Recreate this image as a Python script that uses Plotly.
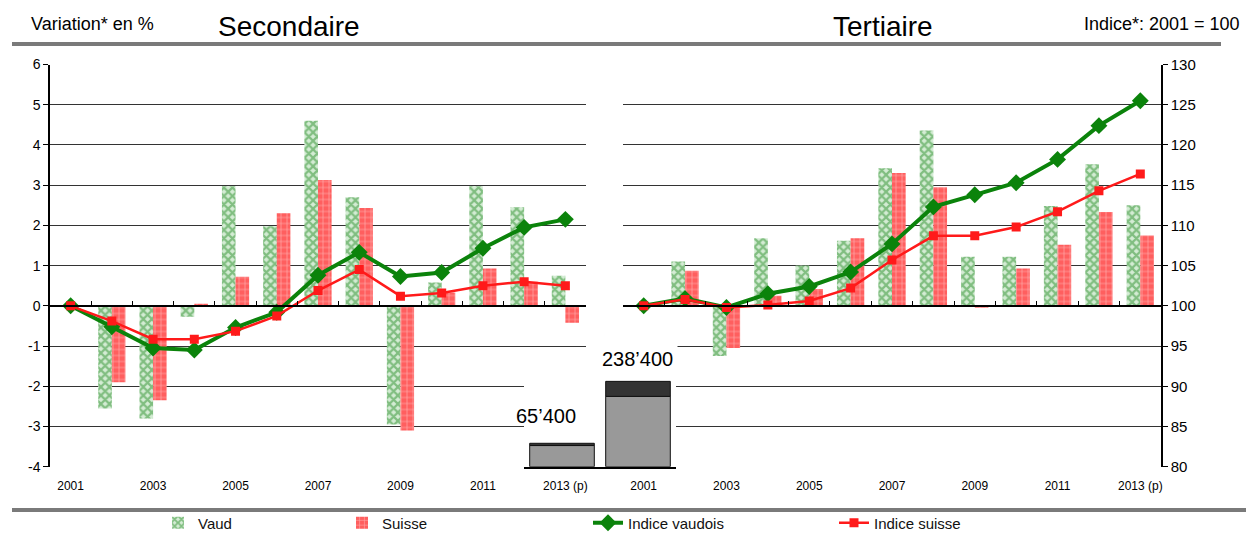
import plotly.graph_objects as go

W, H = 1246, 533


def fx(p):
    return p / W


def fy(p):
    return 1 - p / H


# ---------------- data ----------------
years = ["2001", "2002", "2003", "2004", "2005", "2006", "2007",
         "2008", "2009", "2010", "2011", "2012", "2013 (p)"]
label_years = ["2001", "2003", "2005", "2007", "2009", "2011", "2013 (p)"]

# Secondaire: annual variation in %
sec_vaud = [None, -2.55, -2.8, -0.27, 2.97, 1.98, 4.6, 2.7, -2.95, 0.58, 2.97, 2.45, 0.75]
sec_suisse = [None, -1.9, -2.35, 0.05, 0.72, 2.3, 3.13, 2.43, -3.1, 0.33, 0.93, 0.6, -0.42]
# Secondaire: index 2001 = 100
sec_idx_vaud = [100, 97.4, 94.75, 94.5, 97.3, 99.2, 103.8, 106.65, 103.65, 104.15, 107.15, 109.75, 110.75]
sec_idx_suisse = [100, 98.1, 95.85, 95.85, 96.85, 98.75, 101.9, 104.5, 101.2, 101.6, 102.5, 103.0, 102.5]

# Tertiaire: annual variation in %
ter_vaud = [None, 1.1, -1.25, 1.68, 1.0, 1.62, 3.42, 4.36, 1.22, 1.22, 2.48, 3.52, 2.5]
ter_suisse = [None, 0.87, -1.05, 0.25, 0.42, 1.68, 3.3, 2.95, -0.05, 0.93, 1.52, 2.33, 1.75]
# Tertiaire: index 2001 = 100
ter_idx_vaud = [100, 100.9, 99.8, 101.5, 102.4, 104.2, 107.7, 112.3, 113.8, 115.3, 118.2, 122.4, 125.5]
ter_idx_suisse = [100, 100.8, 99.8, 100.1, 100.6, 102.2, 105.7, 108.7, 108.7, 109.8, 111.7, 114.3, 116.4]

# Inset: employment 2001
inset_cats = ["Secondaire", "Tertiaire"]
inset_gray = [59100, 196500]
inset_dark = [6300, 41900]
inset_totals = [65400, 238400]
inset_labels = ["65\u2019400", "238\u2019400"]

pct_ticks = [-4, -3, -2, -1, 0, 1, 2, 3, 4, 5, 6]
pct_ticktext = ["-4", "-3", "-2", "-1", "0", "1", "2", "3", "4", "5", "6"]
idx_ticks = [80, 85, 90, 95, 100, 105, 110, 115, 120, 125, 130]

# ---------------- styles ----------------
GREEN = "#0b830b"
RED = "#ff1a1a"
FONT = "Arial"

vaud_marker = dict(color="#2b8f2b",
                   pattern=dict(shape="x", fgcolor="#2b8f2b", bgcolor="#d4ecd4",
                                size=6, solidity=0.6),
                   line=dict(width=0))
suisse_marker = dict(color="#ff5f5f",
                     pattern=dict(shape="+", fgcolor="white", bgcolor="#ff5f5f",
                                  size=6, solidity=0.2),
                     line=dict(width=0))

fig = go.Figure()

# Left panel (Secondaire)
fig.add_trace(go.Bar(x=years, y=sec_vaud, name="Vaud", xaxis="x", yaxis="y",
                     marker=vaud_marker, legend="legend"))
fig.add_trace(go.Bar(x=years, y=sec_suisse, name="Suisse", xaxis="x", yaxis="y",
                     marker=suisse_marker, legend="legend2"))
fig.add_trace(go.Scatter(x=years, y=sec_idx_vaud, name="Indice vaudois",
                         xaxis="x4", yaxis="y2", mode="lines+markers",
                         line=dict(color=GREEN, width=4),
                         marker=dict(symbol="diamond", size=13, color=GREEN),
                         legend="legend3"))
fig.add_trace(go.Scatter(x=years, y=sec_idx_suisse, name="Indice suisse",
                         xaxis="x4", yaxis="y2", mode="lines+markers",
                         line=dict(color=RED, width=2.5),
                         marker=dict(symbol="square", size=9, color=RED),
                         legend="legend4"))

# Right panel (Tertiaire)
fig.add_trace(go.Bar(x=years, y=ter_vaud, name="Vaud", xaxis="x2", yaxis="y3",
                     marker=vaud_marker, showlegend=False))
fig.add_trace(go.Bar(x=years, y=ter_suisse, name="Suisse", xaxis="x2", yaxis="y3",
                     marker=suisse_marker, showlegend=False))
fig.add_trace(go.Scatter(x=years, y=ter_idx_vaud, name="Indice vaudois",
                         xaxis="x5", yaxis="y4", mode="lines+markers",
                         line=dict(color=GREEN, width=4),
                         marker=dict(symbol="diamond", size=13, color=GREEN),
                         showlegend=False))
fig.add_trace(go.Scatter(x=years, y=ter_idx_suisse, name="Indice suisse",
                         xaxis="x5", yaxis="y4", mode="lines+markers",
                         line=dict(color=RED, width=2.5),
                         marker=dict(symbol="square", size=9, color=RED),
                         showlegend=False))

# Inset
fig.add_trace(go.Bar(x=inset_cats, y=inset_gray, xaxis="x3", yaxis="y5",
                     width=0.85, offsetgroup="inset", showlegend=False,
                     marker=dict(color="#999999", line=dict(color="#111111", width=1))))
fig.add_trace(go.Bar(x=inset_cats, y=inset_dark, base=inset_gray, xaxis="x3", yaxis="y5",
                     width=0.85, offsetgroup="inset", showlegend=False,
                     marker=dict(color="#333333", line=dict(color="#111111", width=1))))

# ---------------- layout ----------------
left_dom = [fx(50), fx(586)]
right_dom = [fx(623), fx(1161)]
y_dom = [fy(466.7), fy(64.5)]
pct_range = [-4, 6]
idx_range = [80, 130]
zero_pos = y_dom[0] + (0 - pct_range[0]) / (pct_range[1] - pct_range[0]) * (y_dom[1] - y_dom[0])
cat_range = [-0.5, 12.5]

inset_dom_y = [fy(466.7), fy(350)]
inset_range = [0, 326000]

xlab = dict(type="category", categoryorder="array", categoryarray=years,
            range=cat_range, showgrid=False, showline=False, ticks="",
            tickmode="array", tickvals=label_years, ticktext=label_years,
            tickfont=dict(family=FONT, size=12, color="black"),
            ticklabelstandoff=10, zeroline=False)
xzero = dict(type="category", categoryorder="array", categoryarray=years,
             range=cat_range, showgrid=False, showline=True, linecolor="black",
             linewidth=1.5, ticks="inside", ticklen=4, tickcolor="black",
             tickmode="linear", tick0=0, dtick=1, tickson="boundaries",
             showticklabels=False, anchor="free", position=zero_pos, zeroline=False)

fig.update_layout(
    width=W, height=H,
    margin=dict(l=0, r=0, t=0, b=0, autoexpand=False),
    paper_bgcolor="white", plot_bgcolor="white",
    font=dict(family=FONT, color="black"),
    barmode="group", bargap=0.34, bargroupgap=0,
    xaxis=dict(domain=left_dom, anchor="y", **xlab),
    xaxis2=dict(domain=right_dom, anchor="y3", **xlab),
    xaxis4=dict(overlaying="x", **xzero),
    xaxis5=dict(overlaying="x2", **xzero),
    xaxis3=dict(domain=[fx(524), fx(676)], anchor="y5", type="category",
                range=[-0.5, 1.5], showgrid=False, showline=True, linecolor="black",
                linewidth=1.5, ticks="", showticklabels=False, zeroline=False),
    yaxis=dict(domain=y_dom, anchor="x", range=pct_range, tickmode="array",
               tickvals=pct_ticks, ticktext=pct_ticktext, showgrid=True,
               gridcolor="#333333", gridwidth=1, zeroline=False, showline=True,
               linecolor="black", linewidth=1.5, ticks="outside", ticklen=5,
               tickcolor="black", tickfont=dict(family=FONT, size=14, color="black")),
    yaxis2=dict(overlaying="y", range=idx_range, visible=False),
    yaxis3=dict(domain=y_dom, anchor="x2", range=pct_range, visible=False),
    yaxis4=dict(overlaying="y3", anchor="x2", side="right", range=idx_range,
                tickmode="array", tickvals=idx_ticks, showgrid=True,
                gridcolor="#333333", gridwidth=1, zeroline=False, showline=True,
                linecolor="black", linewidth=1.5, ticks="outside", ticklen=5,
                tickcolor="black", tickfont=dict(family=FONT, size=15, color="black")),
    yaxis5=dict(domain=inset_dom_y, anchor="x3", range=inset_range, visible=False),
)

# Legends (one per entry, positioned along the bottom)
leg_common = dict(orientation="h", yanchor="middle", xanchor="left",
                  y=fy(523), bgcolor="rgba(0,0,0,0)",
                  font=dict(family=FONT, size=15, color="#111111"))
fig.update_layout(
    legend=dict(x=fx(158), **leg_common),
    legend2=dict(x=fx(342), **leg_common),
    legend3=dict(x=fx(588), **leg_common),
    legend4=dict(x=fx(834), **leg_common),
)

# Header / footer rules
fig.add_shape(type="line", xref="paper", yref="paper", x0=fx(12), x1=fx(1221),
              y0=fy(44), y1=fy(44), line=dict(color="#7a7a7a", width=4))
fig.add_shape(type="line", xref="paper", yref="paper", x0=fx(12), x1=fx(1246),
              y0=fy(510), y1=fy(510), line=dict(color="#7a7a7a", width=4))

# Titles
fig.add_annotation(text="Variation* en %", xref="paper", yref="paper", x=fx(29), y=fy(24),
                   xanchor="left", yanchor="middle", showarrow=False,
                   font=dict(family=FONT, size=18, color="black"))
fig.add_annotation(text="Secondaire", xref="paper", yref="paper", x=fx(216), y=fy(27),
                   xanchor="left", yanchor="middle", showarrow=False,
                   font=dict(family=FONT, size=28, color="black"))
fig.add_annotation(text="Tertiaire", xref="paper", yref="paper", x=fx(831), y=fy(27),
                   xanchor="left", yanchor="middle", showarrow=False,
                   font=dict(family=FONT, size=28, color="black"))
fig.add_annotation(text="Indice*: 2001 = 100", xref="paper", yref="paper", x=fx(1082), y=fy(24),
                   xanchor="left", yanchor="middle", showarrow=False,
                   font=dict(family=FONT, size=18, color="black"))

# Inset labels
fig.add_annotation(text=inset_labels[0], xref="x3", yref="y5", x=inset_cats[0], y=inset_totals[0],
                   xanchor="center", yanchor="bottom", xshift=-16, yshift=14, showarrow=False,
                   font=dict(family=FONT, size=20, color="black"))
fig.add_annotation(text=inset_labels[1], xref="x3", yref="y5", x=inset_cats[1], y=inset_totals[1],
                   xanchor="center", yanchor="bottom", xshift=-1, yshift=6, showarrow=False,
                   bgcolor="white", borderpad=4,
                   font=dict(family=FONT, size=20, color="black"))

fig.write_html("out.html",
               config={"displayModeBar": False},
               post_script="document.body.style.margin='0';document.body.style.overflow='hidden';")
